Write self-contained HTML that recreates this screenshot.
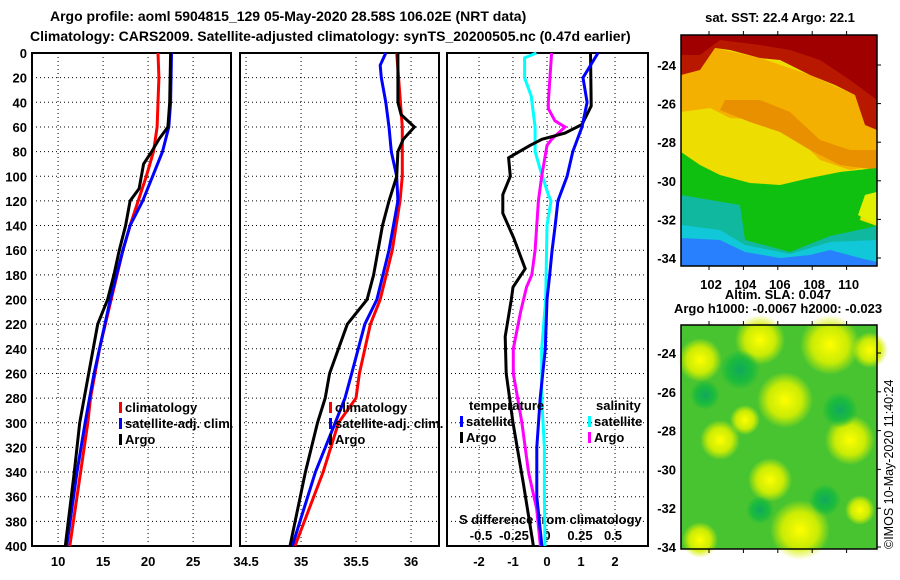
<!DOCTYPE html>
<html><head><meta charset="utf-8">
<style>
body{margin:0;background:#fff;}
#root{position:relative;width:900px;height:580px;overflow:hidden;background:#fff;font-family:"Liberation Sans",sans-serif;font-weight:bold;}
svg text{font-family:"Liberation Sans",sans-serif;font-weight:bold;font-size:13px;fill:#000;}
</style></head>
<body>
<div id="root">
<svg id="chart" width="900" height="580">
<defs>
<radialGradient id="ys"><stop offset="0" stop-color="#ffff00"/><stop offset="0.6" stop-color="#d8f000" stop-opacity="0.9"/><stop offset="1" stop-color="#d8f000" stop-opacity="0"/></radialGradient>
<radialGradient id="gs"><stop offset="0" stop-color="#10a860"/><stop offset="0.6" stop-color="#10b840" stop-opacity="0.8"/><stop offset="1" stop-color="#10b840" stop-opacity="0"/></radialGradient>
<clipPath id="m1clip"><rect x="681" y="35" width="196" height="231"/></clipPath>
</defs>
<text x="50" y="21" style="font-size:14px">Argo profile: aoml 5904815_129 05-May-2020 28.58S 106.02E (NRT data)</text>
<text x="30" y="41" style="font-size:14px">Climatology: CARS2009. Satellite-adjusted climatology: synTS_20200505.nc (0.47d earlier)</text>
<g id="sst" clip-path="url(#m1clip)">
<rect x="681" y="35" width="196" height="231" fill="#eedd00"/>
<polygon fill="#f4b000" points="681,72 700,70 715,48 760,58 810,75 855,95 877,130 877,165 850,170 820,160 800,140 780,125 760,120 730,118 710,108 681,112"/>
<polygon fill="#e89000" points="720,110 725,100 760,100 790,112 820,140 850,150 877,150 877,170 840,165 810,150 780,132 750,122"/>
<polygon fill="#b81800" points="681,35 877,35 877,130 865,125 855,95 835,85 810,75 780,60 760,58 730,50 715,48 700,70 681,75"/>
<polygon fill="#a00000" points="681,35 877,35 877,100 850,80 820,60 790,50 760,45 720,40 700,55 681,55"/>
<polygon fill="#10c010" points="681,152 700,165 720,175 750,183 780,185 810,178 840,172 877,168 877,192 865,195 860,220 877,226 877,266 681,266"/>
<polygon fill="#10b8a0" points="681,195 740,205 745,240 790,252 830,236 877,226 877,266 681,266"/>
<polygon fill="#10c8d8" points="681,225 720,230 745,245 790,254 830,242 877,240 877,266 681,266"/>
<polygon fill="#2880ff" points="681,238 720,240 745,252 780,258 810,255 830,250 860,258 877,262 877,266 681,266"/>
<polygon fill="#e0f000" points="877,192 865,195 858,215 877,225"/>
</g>
<g id="g"></g>
</svg>
</div>
<script>
// ---- data ----
const depthTicks=[0,20,40,60,80,100,120,140,160,180,200,220,240,260,280,300,320,340,360,380,400];
const tTicks=[10,15,20,25];
const sTicks=[34.5,35,35.5,36];
const dtTicks=[-2,-1,0,1,2];
const dsTicks=[-0.5,-0.25,0,0.25,0.5];
const dsTickLabels=["-0.5","-0.25","0","0.25","0.5"];

const tClimD=[0,20,60,80,100,120,140,160,200,240,280,300,340,400];
const tClimV=[21.1,21.2,21.0,20.6,19.8,18.9,18.0,17.2,15.9,14.6,13.6,13.3,12.5,11.3];
const tSatD=[0,40,60,80,100,120,140,160,200,220,260,300,340,400];
const tSatV=[22.6,22.5,22.3,21.6,20.5,19.4,18.0,17.2,15.8,15.2,14.0,13.0,12.1,10.95];
const tArgoD=[0,40,60,70,80,90,110,120,140,160,180,200,220,260,300,340,400];
const tArgoV=[22.5,22.4,22.2,21.2,20.4,19.5,19.0,18.0,17.5,16.8,16.2,15.5,14.4,13.4,12.4,11.8,10.8];

const sClimD=[0,60,100,120,160,200,220,260,280,300,340,400];
const sClimV=[35.87,35.92,35.92,35.90,35.83,35.72,35.63,35.53,35.50,35.34,35.20,34.945];
const sSatD=[0,10,20,40,60,80,100,120,160,200,220,260,280,300,340,400];
const sSatV=[35.77,35.72,35.73,35.77,35.80,35.82,35.87,35.88,35.80,35.69,35.58,35.46,35.40,35.31,35.13,34.92];
const sArgoD=[0,40,50,60,70,80,100,120,140,180,200,220,260,280,300,340,400];
const sArgoV=[35.88,35.88,35.91,36.03,35.93,35.88,35.87,35.80,35.74,35.66,35.60,35.42,35.26,35.22,35.15,35.04,34.9];

const dTSatD=[0,20,40,60,80,100,120,140,160,180,200,240,280,320,360,400];
const dTSatV=[1.5,1.06,1.18,1.03,0.76,0.59,0.32,0.24,0.15,0.08,0,-0.05,-0.2,-0.3,-0.3,-0.15];
const dTArgoD=[0,43,58,65,70,75,85,100,115,130,150,175,190,200,230,260,300,350,400];
const dTArgoV=[1.28,1.3,1.03,0.53,-0.15,-0.5,-1.13,-1.08,-1.3,-1.3,-0.98,-0.64,-1.0,-1.05,-1.23,-1.2,-1.0,-0.69,-0.4];
const dSSatD=[0,4,20,35,60,80,95,115,120,140,200,240,280,320,360,400];
const dSSatV=[-0.08,-0.17,-0.17,-0.12,-0.09,-0.09,-0.05,0.01,0.03,0.0,-0.01,-0.04,-0.04,-0.02,-0.02,-0.015];
const dSArgoD=[0,40,45,55,60,70,75,100,120,160,180,190,210,240,260,300,340,370,400];
const dSArgoV=[0.035,0.01,0.01,0.06,0.136,0.035,0,-0.04,-0.065,-0.09,-0.115,-0.155,-0.2,-0.255,-0.255,-0.19,-0.14,-0.078,-0.05];

const latTicks=[-24,-26,-28,-30,-32,-34];
const lonTicks=[102,104,106,108,110];

// ---- geometry ----
const NS='http://www.w3.org/2000/svg';
const G=document.getElementById('g');
const Y0=53, Y1=546;
const yD=d=>Y0+(d/400)*(Y1-Y0);
const xT=v=>32+(v-7.1)*9;
const xS=v=>240+(v-34.445)*110;
const xDT=v=>547+v*34;
const xDS=v=>547+v*132;
function el(tag,attrs,parent){const e=document.createElementNS(NS,tag);for(const k in attrs)e.setAttribute(k,attrs[k]);(parent||G).appendChild(e);return e;}
function txt(x,y,s,anchor,name,size){const t=el('text',{x:x,y:y,'text-anchor':anchor||'start'});if(size)t.style.fontSize=size+'px';t.textContent=s;


return t;}

const panels=[{x0:32,x1:231,name:'temperature'},{x0:240,x1:439,name:'salinity'},{x0:447,x1:648,name:'difference'}];
panels.forEach(p=>{
  const gp=el('g',{});
  
  
  depthTicks.forEach(d=>{
    const l=el('line',{x1:p.x0,x2:p.x1,y1:yD(d),y2:yD(d),stroke:'#000','stroke-width':1,'stroke-dasharray':'1,3'},gp);
    
    
  });
  const r=el('rect',{x:p.x0,y:Y0,width:p.x1-p.x0,height:Y1-Y0,fill:'none',stroke:'#000','stroke-width':2},gp);
  
  
});
function vgrid(xs,fx){xs.forEach(v=>{const l=el('line',{x1:fx(v),x2:fx(v),y1:Y0,y2:Y1,stroke:'#000','stroke-width':1,'stroke-dasharray':'1,3'});

});}
vgrid(tTicks,xT);vgrid(sTicks,xS);vgrid(dtTicks,xDT);
depthTicks.forEach(d=>txt(27,yD(d)+5,String(d),'end','depth-tick-label'));
tTicks.forEach(v=>txt(xT(v),566,String(v),'middle','temperature-tick-label'));
sTicks.forEach(v=>txt(xS(v),566,String(v),'middle','salinity-tick-label'));
dtTicks.forEach(v=>txt(xDT(v),566,String(v),'middle','temp-diff-tick-label'));
dsTicks.forEach((v,i)=>txt(xDS(v),540,dsTickLabels[i],'middle','sal-diff-tick-label'));
txt(459,524,'S difference from climatology','start','sal-diff-axis-title');

function line(D,V,fx,color,name){
  const pts=D.map((d,i)=>fx(V[i]).toFixed(1)+','+yD(d).toFixed(1)).join(' ');
  const pl=el('polyline',{points:pts,fill:'none',stroke:color,'stroke-width':3});
  
  
}
line(tClimD,tClimV,xT,'#ff0000','temp-climatology-line');
line(tSatD,tSatV,xT,'#0000ff','temp-satellite-line');
line(tArgoD,tArgoV,xT,'#000','temp-argo-line');
line(sClimD,sClimV,xS,'#ff0000','sal-climatology-line');
line(sSatD,sSatV,xS,'#0000ff','sal-satellite-line');
line(sArgoD,sArgoV,xS,'#000','sal-argo-line');
line(dSSatD,dSSatV,xDS,'#00ffff','sal-diff-satellite-line');
line(dSArgoD,dSArgoV,xDS,'#ff00ff','sal-diff-argo-line');
line(dTArgoD,dTArgoV,xDT,'#000','temp-diff-argo-line');
line(dTSatD,dTSatV,xDT,'#0000ff','temp-diff-satellite-line');

function legend(x,y,color,label){
  const r=el('rect',{x:x,y:y-10,width:3,height:11,fill:color});
  
  
  txt(x+6,y,label,'start','legend-entry');
}
legend(119,412,'#ff0000','climatology');legend(119,428,'#0000ff','satellite-adj. clim.');legend(119,444,'#000','Argo');
legend(329,412,'#ff0000','climatology');legend(329,428,'#0000ff','satellite-adj. clim.');legend(329,444,'#000','Argo');
txt(469,410,'temperature','start','legend-title-temperature');
txt(596,410,'salinity','start','legend-title-salinity');
legend(460,426,'#0000ff','satellite');legend(460,442,'#000','Argo');
legend(588,426,'#00ffff','satellite');legend(588,442,'#ff00ff','Argo');

// maps
const M1={x0:681,x1:877,y0:35,y1:266}, M2={x0:681,x1:877,y0:325,y1:549};
const m2=el('rect',{x:M2.x0,y:M2.y0,width:M2.x1-M2.x0,height:M2.y1-M2.y0,fill:'#48c430'});


[[700,360,22],[760,340,25],[830,345,30],[870,350,18],[720,440,20],[785,400,28],[770,480,22],[850,440,25],[800,530,30],[700,540,18],[860,510,15],[745,420,15]].forEach(c=>{
  const s=el('circle',{cx:c[0],cy:c[1],r:c[2],fill:'url(#ys)'});
  
  
});
[[740,370,20],[705,395,15],[840,410,18],[760,510,14],[825,500,16]].forEach(c=>{
  const s=el('circle',{cx:c[0],cy:c[1],r:c[2],fill:'url(#gs)'});
  
  
});
[M1,M2].forEach(m=>{
  const r=el('rect',{x:m.x0,y:m.y0,width:m.x1-m.x0,height:m.y1-m.y0,fill:'none',stroke:'#000','stroke-width':1.5});
  
  
});
const lat1=v=>65+(v+24)/-10*193;
const lat2=v=>353+(v+24)/-10*194;
const lonX=v=>709+(v-102)*17.2;
latTicks.forEach(v=>{txt(676,lat1(v)+5,String(v),'end','sst-lat-label');txt(676,lat2(v)+5,String(v),'end','sla-lat-label');
  [lat1(v),lat2(v)].forEach(yy=>{const t=el('line',{x1:M1.x1,x2:M1.x1+4,y1:yy,y2:yy,stroke:'#000'});});
});
lonTicks.forEach(v=>{txt(lonX(v)+2,289,String(v),'middle','sst-lon-label');
  [[M1.y1,M1.y1+4],[M1.y0-4,M1.y0],[M2.y0-4,M2.y0],[M2.y1,M2.y1+4]].forEach(yy=>{
  const t=el('line',{x1:lonX(v),x2:lonX(v),y1:yy[0],y2:yy[1],stroke:'#000'});});
});
txt(780,22,'sat. SST: 22.4 Argo: 22.1','middle','sst-map-title');
txt(778,299,'Altim. SLA: 0.047','middle','sla-map-title');
txt(778,313,'Argo h1000: -0.0067 h2000: -0.023','middle','sla-argo-heights');
const cr=txt(0,0,'©IMOS 10-May-2020 11:40:24','start','imos-credit',12.5);
cr.style.fontWeight='normal';
cr.setAttribute('transform','translate(893,549) rotate(-90)');
</script>
</body></html>
